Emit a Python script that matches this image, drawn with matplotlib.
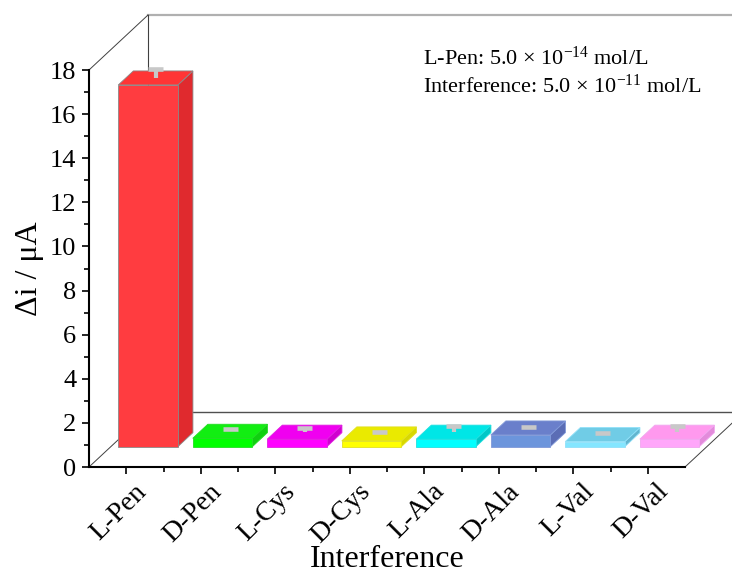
import matplotlib
matplotlib.use("Agg")
import matplotlib.pyplot as plt
from matplotlib.patches import Polygon
from matplotlib.transforms import ScaledTranslation

categories = ["L-Pen", "D-Pen", "L-Cys", "D-Cys", "L-Ala", "D-Ala", "L-Val", "D-Val"]
values = [16.4, 0.38, 0.34, 0.26, 0.34, 0.53, 0.23, 0.34]
errors = [0.42, 0.11, 0.19, 0.10, 0.29, 0.05, 0.05, 0.29]

front_colors = ["#FF3C40", "#00FF00", "#FF00FF", "#FFFF00", "#00FFFF", "#6C95DC", "#84E6FF", "#FFA6FA"]
top_colors = ["#FF3535", "#12EE12", "#F000F0", "#EAEA00", "#00E6E6", "#6A7FCB", "#70CCE6", "#FF99EE"]
side_colors = ["#E02A2E", "#10D010", "#D000D0", "#D8D800", "#00C8C8", "#5B6DB5", "#62B5CF", "#E38BDB"]
edge_colors = ["#8A8A8A", "#22DD22", "#E020E0", "#E0E020", "#20E0E0", "#8098D8", "#90E0F8", "#F0A8F0"]

YMAX = 18
DX, DY = 0.792, 2.493      # full depth offset, in data units
Z0, Z1 = 0.37, 0.625       # bar depth (front, back)
BAR_W = 0.8

plt.rcParams["font.family"] = ["Liberation Serif", "DejaVu Serif"]
plt.rcParams["mathtext.default"] = "regular"

fig = plt.figure(figsize=(7.32, 5.75), dpi=100)
ax = fig.add_axes([89 / 732, 108 / 575, 596 / 732, 397 / 575])
ax.set_xlim(0.5, len(categories) + 0.5)
ax.set_ylim(0, YMAX)


def proj(x, y, z):
    return (x + z * DX, y + z * DY)


def line3d(p, q, **kw):
    (x0, y0), (x1, y1) = p, q
    ax.plot([x0, x1], [y0, y1], clip_on=False, **kw)


x0, x1 = 0.5, len(categories) + 0.5
# back wall / floor frame
line3d(proj(x0, YMAX, 1), proj(x1 + 1, YMAX, 1), color="#B0B0B0", lw=1.6, zorder=1)
line3d(proj(x0, 0, 1), proj(x0, YMAX, 1), color="#404040", lw=0.8, zorder=1)
line3d(proj(x0, 0, 1), proj(x1 + 1, 0, 1), color="#505050", lw=1.0, zorder=1)
line3d(proj(x0, YMAX, 0), proj(x0, YMAX, 1), color="#404040", lw=0.7, zorder=1)
line3d(proj(x0, 0, 0), proj(x0, 0, 1), color="#404040", lw=0.7, zorder=1)
line3d(proj(x1, 0, 0), proj(x1, 0, 1), color="#404040", lw=0.7, zorder=1)

for i, (v, e) in enumerate(zip(values, errors)):
    xc = i + 1
    xl, xr = xc - BAR_W / 2, xc + BAR_W / 2
    zb = 3 + i * 0.1
    front = [proj(xl, 0, Z0), proj(xr, 0, Z0), proj(xr, v, Z0), proj(xl, v, Z0)]
    top = [proj(xl, v, Z0), proj(xr, v, Z0), proj(xr, v, Z1), proj(xl, v, Z1)]
    side = [proj(xr, 0, Z0), proj(xr, 0, Z1), proj(xr, v, Z1), proj(xr, v, Z0)]
    for pts, col in ((side, side_colors[i]), (front, front_colors[i]), (top, top_colors[i])):
        ax.add_patch(Polygon(pts, closed=True, facecolor=col, edgecolor=edge_colors[i],
                             lw=0.6, zorder=zb, clip_on=False))
    # error bar from the centre of the top face
    zm = (Z0 + Z1) / 2
    line3d(proj(xc, v, zm), proj(xc, v + e, zm), color="#C8C8C8", lw=3.0,
           solid_capstyle="butt", zorder=zb + 0.05)
    line3d(proj(xc - 0.1, v + e, zm), proj(xc + 0.1, v + e, zm), color="#C8C8C8",
           lw=3.3, solid_capstyle="butt", zorder=zb + 0.06)

for s in ("top", "right"):
    ax.spines[s].set_visible(False)
for s in ("left", "bottom"):
    ax.spines[s].set_linewidth(1.5)

ax.set_yticks(range(0, YMAX + 1, 2))
ax.set_yticks(range(1, YMAX, 2), minor=True)
ax.set_xticks(range(1, len(categories) + 1))
ax.set_xticks([i + 0.5 for i in range(1, len(categories))], minor=True)
ax.set_xticklabels(categories, rotation=45, ha="right", va="center", rotation_mode="anchor")
ax.tick_params(which="major", direction="out", length=5, width=1.2, labelsize=19, pad=4)
ax.tick_params(which="minor", direction="out", length=3.5, width=1.2)
ax.tick_params(axis="x", which="major", pad=6, labelsize=20)

off = ScaledTranslation(12 / 72, -4 / 72, fig.dpi_scale_trans)
for lab in ax.get_xticklabels():
    lab.set_transform(lab.get_transform() + off)

ax.set_ylabel("Δi / μA", fontsize=23, labelpad=4)
ax.set_xlabel("Interference", fontsize=23, labelpad=-2)

fig.text(423 / 732, 1 - 65 / 575, r"L-Pen: 5.0 × 10$^{-14}$ mol/L", fontsize=16, va="baseline")
fig.text(423 / 732, 1 - 93 / 575, r"Interference: 5.0 × 10$^{-11}$ mol/L", fontsize=16, va="baseline")

fig.savefig("out.png", dpi=100, facecolor="white")
